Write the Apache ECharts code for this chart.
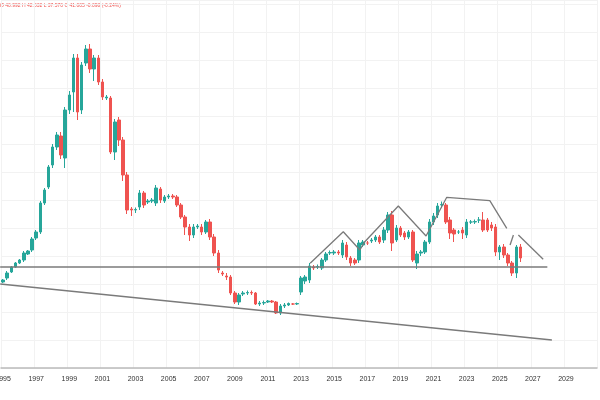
<!DOCTYPE html>
<html>
<head>
<meta charset="utf-8">
<script src="https://cdn.jsdelivr.net/npm/echarts@6/dist/echarts.min.js"></script>
<style>body{margin:0}#main{width:600px;height:400px}</style>
</head>
<body>
<div id="main"></div>
<script>
// quarterly candles, 1995Q1 onwards
var opens = [86,90,96,101,105,108,114,118,130,136,165,181,203,221,232,210,258,276,310,258,305,319,299,310,286,270,270,216,248,228,193,159,158,161,175,166,167,165,179,167,171,172,171,163,151,141,133,141,141,136,146,131,115,95,92,91,75,66,74,75,75.5,75,64,65,66,67,66,55,62,63,64,64,
  76,87,88,101,101,100,108,115,115,116,113,123,110,108,108,123,125,127,128,131,128,138,153,128,140,135,131,136,105,115,116,126,146,153,163,163,148,138,136,138,133,146,146,148,148,148,143,141,116,121,113,105,95,121];
var closes = [88,95,101,105,108,115,117,129,136,165,178,201,221,233,213,258,273,310,256,303,319,299,310,286,271,271,216,246,228,193,158,158,158.5,175,163,167,168,180,168,171,172,171,163,151,141,133,141,142,136,146,131,115,98,94,91,75,66,73,75,75.5,75,64,65,65.5,67,66,55,62,63,64.5,64,64.5,
  90,91,102,100,101.5,108,114,115.5,116,115,125,111,105,105,125,126,125,128,131,126,138,153,125,140,133,131,136,108,114,116,126,146,152,162,163.5,146,135,134,136,135,146,146,146.5,148,138,138,140,116,121,113,105,95,121,110];
var wickUp = [1,2,1,1,1,2,1,2,2,2,2,2,3,3,4,3,4,4,4,3,4,5,3,3,3,2,2,3,3,3,3,2,2,3,2,2,2,3,2,2,2,2,2,2,2,3,3,2,3,2,3,3,3,2,3,2,2,2,2,2,2,1,2,2,1,1,1,2,2,1,1,1,
  2,2,3,2,2,2,2,2,2,2,3,3,2,2,3,2,2,2,2,2,3,3,4,3,2,2,2,2,3,2,2,3,3,3,3,2,3,2,2,3,3,2,2,3,8,2,3,3,2,3,2,2,2,3,3];
var wickDn = [1,2,1,1,1,2,1,2,2,2,2,2,3,3,4,10,4,20,8,4,3,4,12,3,3,2,2,8,6,6,4,6,3,3,3,2,2,3,3,2,2,2,2,2,8,6,3,2,3,2,3,3,3,2,3,2,2,3,2,2,2,1,2,2,1,1,1,2,2,1,1,1,
  3,3,3,2,2,2,2,2,2,2,3,3,3,2,3,2,2,2,2,2,3,3,8,2,2,3,2,2,6,3,2,2,3,3,3,2,6,8,2,6,3,2,2,3,2,2,3,4,8,3,3,3,5,4,3];
var years = [];
for (var y = 1995; y <= 2030; y++) for (var k = 1; k <= 4; k++) years.push(y + 'Q' + k);
var candles = opens.map(function (o, i) {
  var c = closes[i];
  return [o, c, Math.min(o, c) - wickDn[i], Math.max(o, c) + wickUp[i]];
});
// drawn trend lines: [quarter index, price]
var supportLine = [[-0.7, 84], [132.6, 28]];
var neckLine = [[-0.7, 101], [131.5, 101]];
var patternLine = [[74.2, 104.7], [82.2, 136.3], [86.2, 118], [87.4, 126.3], [95.5, 162], [102.2, 132], [107.2, 170.7], [117.6, 167.3], [121.7, 139.7]];
var shortLine = [[122.5, 123], [123.3, 133]];
var lastLine = [[124.5, 133], [130.5, 108.7]];

var chart = echarts.init(document.getElementById('main'));
function seg(d) {
  return {type: 'line', xAxisIndex: 1, data: d, symbol: 'none', silent: true,
    lineStyle: {color: '#7a7a7a', width: 1.3}};
}
chart.setOption({
  animation: false,
  graphic: [{type: 'text', left: 0, top: 3, style: {text: 'Ø 40.992 H 42.032 L 37.570 C 41.005 -0.098 (-0.24%)', fill: '#ef5350', font: '5px sans-serif'}}],
  grid: {left: 1, right: 3, top: 0, bottom: 32, containLabel: false, outerBoundsMode: 'none'},
  xAxis: [{
    type: 'category', data: years,
    axisLine: {lineStyle: {color: '#bbb', width: 1.5}},
    axisTick: {show: false},
    axisLabel: {interval: function (i) { return i % 8 === 0; }, formatter: function (v) { return v.slice(0, 4); },
      fontSize: 7, color: '#333', margin: 8},
    splitLine: {show: true, interval: function (i) { return i % 8 === 0; }, lineStyle: {color: '#f2f2f2'}}
  }, {
    type: 'value', min: -0.5, max: 143.5, show: false
  }],
  yAxis: {type: 'value', min: 0, max: 368, interval: 28, axisLabel: {show: false},
    axisLine: {show: false}, axisTick: {show: false},
    splitLine: {lineStyle: {color: '#f2f2f2'}}},
  series: [{
    type: 'candlestick', data: candles, barWidth: 3,
    itemStyle: {color: '#26a69a', color0: '#ef5350', borderColor: '#26a69a', borderColor0: '#ef5350'}
  }, seg(supportLine), seg(neckLine), seg(patternLine), seg(shortLine), seg(lastLine)]
});
</script>
</body>
</html>
